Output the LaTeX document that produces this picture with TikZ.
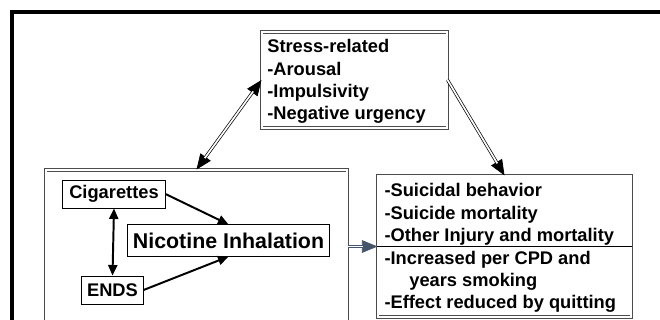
\documentclass[tikz,border=0pt]{standalone}
\usepackage{fontspec}
\setmainfont{Liberation Sans}
\usetikzlibrary{arrows.meta}
\definecolor{slateblue}{HTML}{44546A}

\begin{document}
\begin{tikzpicture}[x=0.025cm, y=-0.025cm,
		every node/.style={font=\bfseries\fontsize{13}{15.8}\selectfont},
		dblbox/.style={draw=black!70, double=white, double distance=1.1pt, line width=0.6pt, inner sep=0pt},
		plainbox/.style={draw, line width=0.7pt, inner sep=0pt},
		txt/.style={align=left, inner sep=0pt},
		dblarrow/.style={draw=black, double=white, double distance=1.2pt, line width=0.5pt},
		tipline/.style={line width=0.5pt, -{Triangle[length=11pt,width=9pt]}},
		solidarrow/.style={line width=1.4pt, -{Triangle[length=7.5pt,width=6.5pt]}}]
		%%%%% START %%%%%
		\clip (0, 0) rectangle (660, 320);
		\draw[line width=3pt] (12, 400) -- (12, 12) -- (720, 12);
		
		\node[dblbox, minimum width=4.63cm, minimum height=2.4cm] (stress) at (354.5, 80) {};
		\node[txt, anchor=west] (stresstext) at ([xshift=0.14cm, yshift=-0.04cm]stress.west)
			{Stress-related\\-Arousal\\-Impulsivity\\-Negative urgency};
		
		\node[dblbox, minimum width=7.53cm, minimum height=5.25cm] (lbox) at (196.5, 275) {};
		\node[plainbox, minimum width=2.55cm, minimum height=0.7cm] (cig) at (114, 194) {Cigarettes};
		\node[plainbox, minimum width=5.03cm, minimum height=0.78cm,
			font=\bfseries\fontsize{15.2}{18}\selectfont] (nic) at (228.5, 240.5) {Nicotine Inhalation};
		\node[plainbox, minimum width=1.53cm, minimum height=0.7cm] (ends) at (112.5, 290) {ENDS};
		
		\node[dblbox, minimum width=6.33cm, minimum height=3.53cm] (rbox) at (504.5, 246.5) {};
		\draw[line width=0.8pt] (rbox.west) -- (rbox.east);
		\node[txt, anchor=south west] (outcomes) at ([xshift=0.17cm, yshift=0.03cm]rbox.west)
			{-Suicidal behavior\\-Suicide mortality\\-Other Injury and mortality};
		\node[txt, anchor=north west] (dose) at ([xshift=0.17cm, yshift=-0.1cm]rbox.west)
			{-Increased per CPD and\\\hspace*{0.62cm}years smoking\\-Effect reduced by quitting};
		
		% tips first, double shafts on top
		\draw[tipline, {Triangle[length=11pt,width=9pt]}-{Triangle[length=11pt,width=9pt]}] (stress.west) -- (lbox.north);
		\draw[dblarrow, shorten <=10pt, shorten >=10pt] (stress.west) -- (lbox.north);
		\draw[tipline] (stress.east) -- (rbox.north);
		\draw[dblarrow, shorten >=10pt] (stress.east) -- (rbox.north);
		\draw[tipline, draw=slateblue, fill=slateblue] (lbox.east |- rbox.west) -- (rbox.west);
		\draw[dblarrow, draw=slateblue, shorten >=10pt] (lbox.east |- rbox.west) -- (rbox.west);
		
		\draw[solidarrow] (cig.east) -- (nic.north);
		\draw[solidarrow] (ends.east) -- (nic.south);
		\draw[solidarrow, {Triangle[length=7.5pt,width=6.5pt]}-{Triangle[length=7.5pt,width=6.5pt]}] (cig.south) -- (ends.north);
		%%%%% END %%%%%
	\end{tikzpicture}
\end{document}
